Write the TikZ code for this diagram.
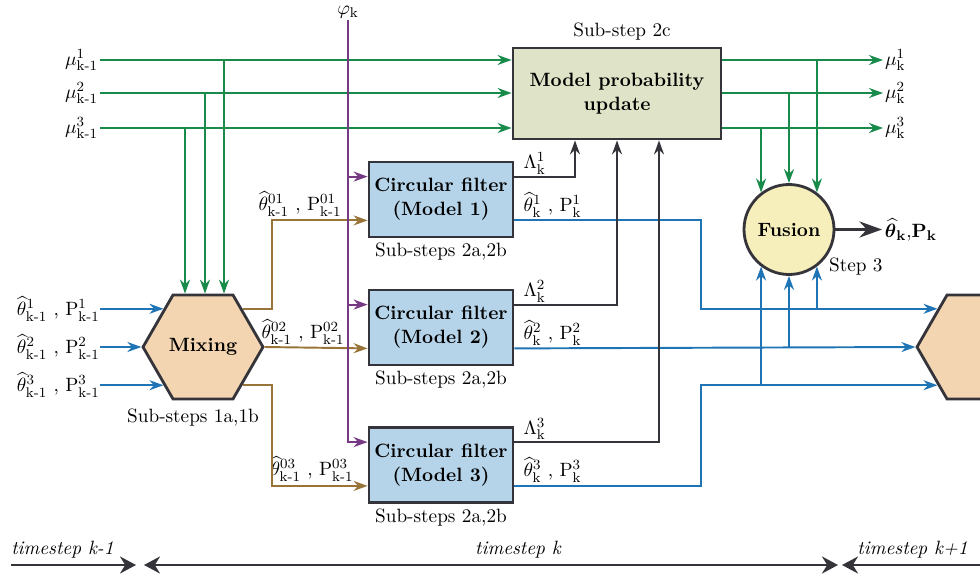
\documentclass[tikz,border=0pt,11pt]{standalone}
\usepackage{amsmath}
\usepackage{tikz}
\usetikzlibrary{arrows.meta,positioning,shapes.geometric,calc}
\definecolor{hidden-draw}{RGB}{52,52,58}
\definecolor{mu-line}{RGB}{24,138,74}
\definecolor{est-line}{RGB}{30,116,180}
\definecolor{mix-line}{RGB}{152,116,56}
\definecolor{phi-line}{RGB}{118,58,132}
\definecolor{filtA}{HTML}{B6D4E9}
\definecolor{mpuA}{HTML}{DFE4C8}
\definecolor{fusA}{HTML}{F6EFBC}
\definecolor{mixA}{HTML}{F3D5B1}
\newcommand{\kmo}{\text{k-1}}
\newcommand{\rk}{\mathrm{k}}

\begin{document}
\begin{tikzpicture}[
 blk/.style={draw=hidden-draw, line width=1.6pt, align=center, font=\bfseries, inner sep=0pt},
 filt/.style={blk, fill=filtA, minimum width=2.88cm, minimum height=1.5cm},
 hexa/.style={blk, fill=mixA, regular polygon, regular polygon sides=6, minimum size=2.4cm},
 lbl/.style={inner sep=1pt},
 arr/.style={-{Stealth[length=2.8mm,width=2mm]}},
 mu/.style={arr, mu-line, line width=1.1pt},
 est/.style={arr, est-line, line width=1.1pt},
 mixo/.style={arr, mix-line, line width=1.1pt},
 phi/.style={arr, phi-line, line width=1.1pt},
 lam/.style={arr, hidden-draw, line width=1.1pt},
 tl/.style={hidden-draw, line width=1.4pt},
]
 \clip (0,0) rectangle (19.6,11.48);
 %
 \node[hexa] (mix) at (4.06,4.54) {Mixing};
 \node[hexa] (nx) at (19.54,4.54) {};
 \node[filt] (f1) at (8.82,7.49) {Circular filter\\(Model 1)};
 \node[filt] (f2) at (8.82,4.93) {Circular filter\\(Model 2)};
 \node[filt] (f3) at (8.82,2.18) {Circular filter\\(Model 3)};
 \node[blk, fill=mpuA, minimum width=4.16cm, minimum height=1.82cm] (mpu) at (12.34,9.61) {Model probability\\update};
 \node[blk, circle, fill=fusA, minimum size=1.8cm] (fus) at (15.78,6.89) {Fusion};
 %
 \node[below=1pt of mix, xshift=-0.2cm] (sub1) {Sub-steps 1a,1b};
 \node[below=-1pt of f1] (sub21) {Sub-steps 2a,2b};
 \node[below=-1pt of f2] (sub22) {Sub-steps 2a,2b};
 \node[below=-1pt of f3] (sub23) {Sub-steps 2a,2b};
 \node[above=0pt of mpu, xshift=0.1cm] (sub2c) {Sub-step 2c};
 \node[anchor=north west, lbl] (st3) at (fus.-35) {Step 3};
 %
 \foreach \i in {1,2,3}{
  \coordinate (p\i) at ([yshift=-0.32cm]f\i.north west);
  \coordinate (b\i) at ([yshift=0.36cm]f\i.south west);
  \coordinate (l\i) at ([yshift=-0.32cm]f\i.north east);
  \coordinate (o\i) at ([yshift=0.36cm]f\i.south east);
 }
 %
 \node[anchor=east, lbl] (mul1) at (2.0,10.28) {$\mu^1_{\kmo}$};
 \node[anchor=east, lbl] (mul2) at (2.0,9.62) {$\mu^2_{\kmo}$};
 \node[anchor=east, lbl] (mul3) at (2.0,8.92) {$\mu^3_{\kmo}$};
 \node[anchor=west, lbl] (mur1) at (17.66,10.28) {$\mu^1_{\rk}$};
 \node[anchor=west, lbl] (mur2) at (17.66,9.62) {$\mu^2_{\rk}$};
 \node[anchor=west, lbl] (mur3) at (17.66,8.92) {$\mu^3_{\rk}$};
 \node[lbl] (phin) at (6.96,11.24) {$\varphi_{\rk}$};
 \node[anchor=west, inner sep=1.5pt] (fout) at (17.64,6.89) {$\boldsymbol{\widehat{\theta}}_{\mathbf{k}}$,$\mathbf{P}_{\mathbf{k}}$};
 %
 \node[anchor=east, inner sep=0pt] (thi1) at (2.0,0 |- mix.136) {$\widehat{\theta}^1_{\kmo}$ , $\mathrm{P}^1_{\kmo}$};
 \node[anchor=east, inner sep=0pt] (thi2) at (2.0,0 |- mix.west) {$\widehat{\theta}^2_{\kmo}$ , $\mathrm{P}^2_{\kmo}$};
 \node[anchor=east, inner sep=0pt] (thi3) at (2.0,0 |- mix.224) {$\widehat{\theta}^3_{\kmo}$ , $\mathrm{P}^3_{\kmo}$};
 %
 \node[anchor=south, lbl] (thm1) at ([yshift=0.04cm]6.0,0 |- b1) {$\widehat{\theta}^{01}_{\kmo}$ , $\mathrm{P}^{01}_{\kmo}$};
 \node[anchor=south, lbl] (thm2) at ([yshift=0.04cm]6.06,0 |- b2) {$\widehat{\theta}^{02}_{\kmo}$ , $\mathrm{P}^{02}_{\kmo}$};
 \node[anchor=south, lbl] (thm3) at ([yshift=0.04cm]6.24,0 |- b3) {$\widehat{\theta}^{03}_{\kmo}$ , $\mathrm{P}^{03}_{\kmo}$};
 %
 \node[anchor=south west, lbl] (lam1) at ([xshift=0.14cm]l1) {$\Lambda^1_{\rk}$};
 \node[anchor=south west, lbl] (lam2) at ([xshift=0.14cm]l2) {$\Lambda^2_{\rk}$};
 \node[anchor=south west, lbl] (lam3) at ([xshift=0.14cm]l3) {$\Lambda^3_{\rk}$};
 \node[anchor=south west, lbl] (tho1) at ([xshift=0.14cm,yshift=0.02cm]o1) {$\widehat{\theta}^1_{\rk}$ , $\mathrm{P}^1_{\rk}$};
 \node[anchor=south west, lbl] (tho2) at ([xshift=0.14cm,yshift=0.02cm]o2) {$\widehat{\theta}^2_{\rk}$ , $\mathrm{P}^2_{\rk}$};
 \node[anchor=south west, lbl] (tho3) at ([xshift=0.14cm,yshift=0.02cm]o3) {$\widehat{\theta}^3_{\rk}$ , $\mathrm{P}^3_{\rk}$};

 % model probabilities
 \draw[mu] (mul1.east) -- (mul1.east -| mpu.west);
 \draw[mu] (mul2.east) -- (mul2.east -| mpu.west);
 \draw[mu] (mul3.east) -- (mul3.east -| mpu.west);
 \draw[mu] (mpu.east |- mur1.west) -- (mur1.west);
 \draw[mu] (mpu.east |- mur2.west) -- (mur2.west);
 \draw[mu] (mpu.east |- mur3.west) -- (mur3.west);
 \draw[mu] (4.48,0 |- mul1.east) -- (4.48,0 |- mix.north);
 \draw[mu] (4.10,0 |- mul2.east) -- (4.10,0 |- mix.north);
 \draw[mu] (3.70,0 |- mul3.east) -- (3.70,0 |- mix.north);
 \draw[mu] (fus.53 |- mur1.west) -- (fus.53);
 \draw[mu] (fus.north |- mur2.west) -- (fus.north);
 \draw[mu] (fus.127 |- mur3.west) -- (fus.127);

 % estimates
 \draw[est] (thi1.east) -- (mix.136);
 \draw[est] (thi2.east) -- (mix.west);
 \draw[est] (thi3.east) -- (mix.224);
 \draw[est] (o1) -- (14.02,0 |- o1) |- (nx.136);
 \draw[est] (o2) -- (nx.west);
 \draw[est] (o3) -- (14.02,0 |- o3) |- (nx.224);
 \draw[est] (fus.-53 |- nx.136) -- (fus.-53);
 \draw[est] (fus.south |- nx.west) -- (fus.south);
 \draw[est] (fus.-127 |- nx.224) -- (fus.-127);

 % mixed estimates
 \draw[mixo] (mix.44) -- (5.44,0 |- mix.44) |- (b1);
 \draw[mixo] (mix.east) -- (b2);
 \draw[mixo] (mix.-44) -- (5.44,0 |- mix.-44) |- (b3);

 % measurement
 \draw[phi] (phin.south) |- (p3);
 \draw[phi] (6.94,0 |- p1) -- (p1);
 \draw[phi] (6.94,0 |- p2) -- (p2);

 % likelihoods
 \draw[lam] (l1) -| ([xshift=-0.84cm]mpu.south);
 \draw[lam] (l2) -| (mpu.south);
 \draw[lam] (l3) -| ([xshift=0.84cm]mpu.south);
 \draw[hidden-draw, line width=2pt, -{Stealth[length=4.5mm,width=3.2mm]}] (fus.east) -- (fout.west);

 % timeline
 \coordinate (t0) at (0.22,0.18);
 \coordinate (t1) at (2.72,0.18);
 \coordinate (t2) at (2.88,0.18);
 \coordinate (t3) at (16.76,0.18);
 \coordinate (t4) at (16.84,0.18);
 \coordinate (t5) at (19.6,0.18);
 \draw[tl, -{Stealth[length=3.2mm,width=3.4mm]}] (t0) -- (t1);
 \draw[tl, {Stealth[length=3.2mm,width=3.4mm]}-{Stealth[length=3.2mm,width=3.4mm]}] (t2) -- (t3);
 \draw[tl, -{Stealth[length=3.2mm,width=3.4mm]}] (t5) -- (t4);
 \node[anchor=west, inner sep=0pt, font=\itshape] (tk0) at (0.22,0.48) {timestep k-1};
 \node[font=\itshape, inner sep=0pt] (tk1) at (10.36,0.48) {timestep k};
 \node[anchor=east, inner sep=0pt, font=\itshape] (tk2) at (19.36,0.48) {timestep k+1};
\end{tikzpicture}
\end{document}
